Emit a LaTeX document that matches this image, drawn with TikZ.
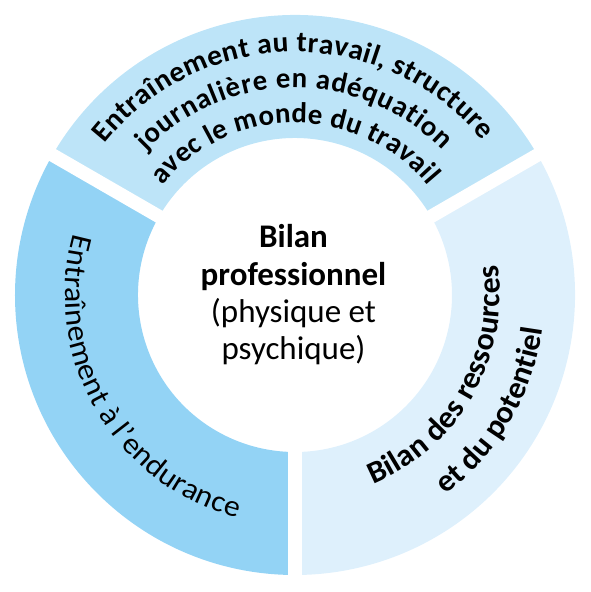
\documentclass[tikz,border=0pt]{standalone}
\usepackage{fontspec}
\setmainfont{Carlito}
\newfontfamily\topfamA{Carlito}[FakeStretch=1.02]
\newfontfamily\leftfam{Carlito}[FakeStretch=1.06]
\newfontfamily\rightfam{Carlito}[FakeStretch=1.03]
\usetikzlibrary{decorations.text}
\definecolor{segtop}{RGB}{189,228,248}
\definecolor{segleft}{RGB}{147,211,245}
\definecolor{segright}{RGB}{222,240,252}
\newcommand\topfontA{\topfamA\bfseries\fontsize{29pt}{34pt}\selectfont}
\newcommand\topfontB{\bfseries\fontsize{28.8pt}{34pt}\selectfont}
\newcommand\leftfont{\leftfam\fontsize{30pt}{34pt}\selectfont}
\newcommand\rightfont{\rightfam\bfseries\fontsize{31pt}{36pt}\selectfont}
\tikzset{
  centrebold/.style={anchor=base, inner sep=0pt, font=\bfseries\fontsize{33pt}{38pt}\selectfont},
  centrereg/.style={anchor=base, inner sep=0pt, font=\fontsize{33pt}{38pt}\selectfont},
  gapline/.style={white, line width=13.5pt},
}
\begin{document}
\begin{tikzpicture}
\useasboundingbox (-295pt,-297pt) rectangle (296pt,295pt);
% segments
\fill[segtop] (30:157pt) arc[start angle=30,end angle=150,radius=157pt] -- (150:280pt) arc[start angle=150,end angle=30,radius=280pt] -- cycle;
\fill[segleft] (150:157pt) arc[start angle=150,end angle=270,radius=157pt] -- (270:280pt) arc[start angle=270,end angle=150,radius=280pt] -- cycle;
\fill[segright] (270:157pt) arc[start angle=270,end angle=390,radius=157pt] -- (390:280pt) arc[start angle=390,end angle=270,radius=280pt] -- cycle;
\foreach \a in {30,150,270} \draw[gapline] (\a:150pt) -- (\a:290pt);
% top text
\path[decorate, decoration={text along path, text align=fit to path, text={|\topfontA|Entraînement au travail, structure}}]
  (141.5:243pt) arc[start angle=141.5, end angle=39.5, radius=243pt];
\path[decorate, decoration={text along path, text align=fit to path, text={|\topfontB|journalière en adéquation}}]
  (136:207pt) arc[start angle=136, end angle=44.5, radius=207pt];
\path[decorate, decoration={text along path, text align=fit to path, text={|\topfontB|avec le monde du travail}}]
  (140.5:172pt) arc[start angle=140.5, end angle=39.5, radius=172pt];
% left text
\path[decorate, decoration={text along path, text align=fit to path, text={|\leftfont|Entraînement à l’endurance}}]
  (164.5:230pt) arc[start angle=164.5, end angle=255.5, radius=230pt];
% right text
\path[decorate, decoration={text along path, text align=fit to path, text={|\rightfont|Bilan des ressources}}]
  (-67.5:205pt) arc[start angle=-67.5, end angle=8.5, radius=205pt];
\path[decorate, decoration={text along path, text align=fit to path, text={|\rightfont|et du potentiel}}]
  (-53:250pt) arc[start angle=-53, end angle=-8, radius=250pt];
% centre
\node[centrebold] (c1) at (-1.5pt,48pt) {Bilan};
\node[centrebold] (c2) at (-1.5pt,10pt) {professionnel};
\node[centrereg] (c3) at (-1.5pt,-27pt) {(physique et};
\node[centrereg] (c4) at (-1.5pt,-64pt) {psychique)};
\end{tikzpicture}
\end{document}
